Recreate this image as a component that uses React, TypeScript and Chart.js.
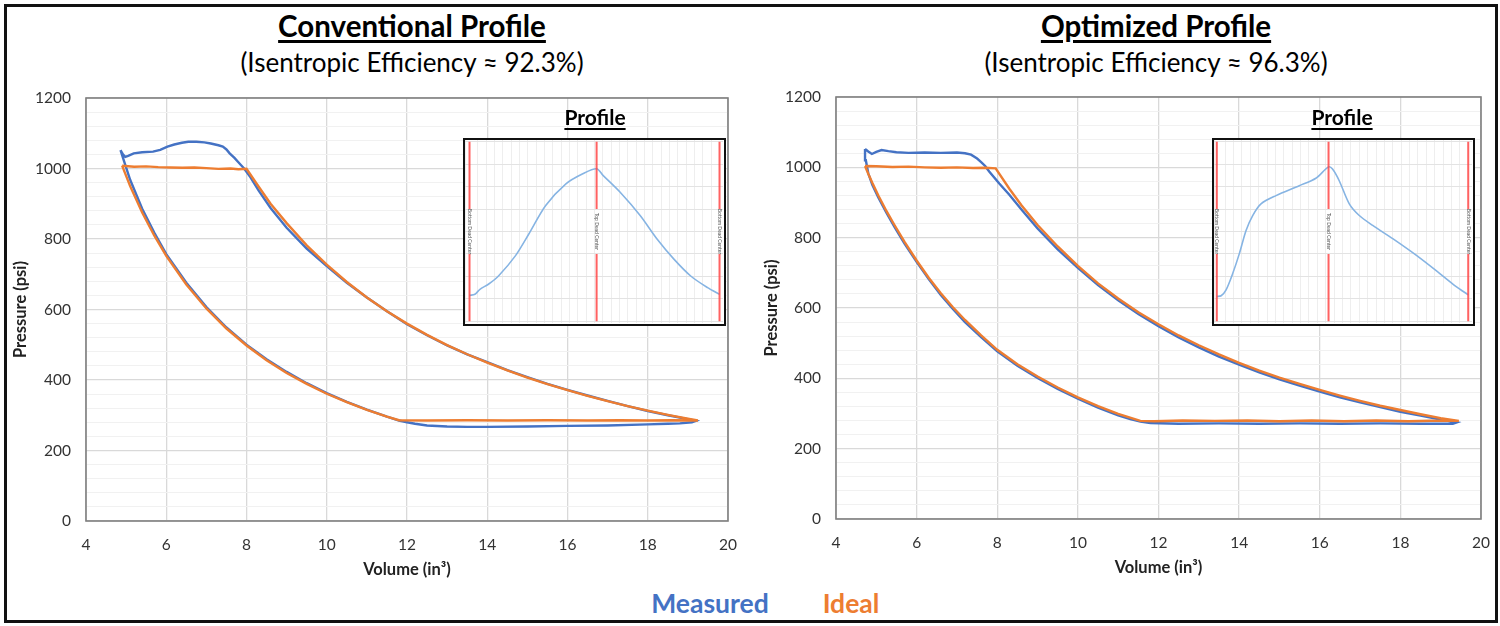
import React, { useEffect, useRef } from "react";
import { Chart, registerables } from "chart.js";
Chart.register(...registerables);

const FONT = 'Lato, "Open Sans", "DejaVu Sans", sans-serif';
const BLUE = "#4472C4";
const ORANGE = "#ED7D31";

// ---------- Conventional profile (left) ----------
const convMeasuredV = [
  4.86, 4.92, 4.98, 5.05, 5.19, 5.4, 5.67, 5.85, 6.03, 6.2, 6.39, 6.55, 6.75, 6.95, 7.11, 7.3, 7.41, 7.5, 7.58, 7.7, 7.82, 7.94,
  8.1, 8.3, 8.6, 9.0, 9.5, 10.0, 10.5, 11.0, 11.5, 12.0, 12.5, 13.0, 13.5, 14.0, 14.5, 15.0, 15.5, 16.0, 16.5, 17.0, 17.5, 18.0, 18.5, 19.0, 19.2,
  19.1, 18.8, 18.5, 18.0, 17.0, 16.0, 15.0, 14.0, 13.5, 13.0, 12.5, 12.2, 12.0, 11.8,
  11.5, 11.0, 10.5, 10.0, 9.5, 9.0, 8.5, 8.0, 7.5, 7.0, 6.5, 6.0, 5.7, 5.4, 5.1, 4.95, 4.86,
];
const convMeasuredP = [
  1052, 1040, 1033, 1036, 1043, 1046, 1048, 1053, 1062, 1068, 1073, 1076, 1076, 1074, 1071, 1066, 1062, 1054, 1043, 1030, 1015, 1000,
  975, 938, 888, 832, 773, 723, 676, 634, 595, 558, 527, 498, 473, 451, 428, 408, 389, 372, 356, 341, 326, 312, 300, 289, 284,
  280, 277, 276, 274, 271, 270, 268, 267, 267, 268, 271, 276, 280, 285,
  296, 316, 338, 363, 391, 423, 459, 500, 549, 607, 676, 757, 818, 886, 968, 1020, 1052,
];
const convIdealV = [
  4.9, 5.2, 5.5, 5.8, 6.1, 6.4, 6.7, 7.0, 7.3, 7.6, 7.8, 8.0,
  8.3, 8.6, 9.0, 9.5, 10.0, 10.5, 11.0, 11.5, 12.0, 12.5, 13.0, 13.5, 14.0, 14.5, 15.0, 15.5, 16.0, 16.5, 17.0, 17.5, 18.0, 18.5, 19.0, 19.25,
  18.6, 18.0, 17.3, 16.5, 15.5, 14.5, 13.5, 12.5, 11.8,
  11.5, 11.0, 10.5, 10.0, 9.5, 9.0, 8.5, 8.0, 7.5, 7.0, 6.5, 6.0, 5.7, 5.4, 5.1, 4.9,
];
const convIdealP = [
  1008, 1005, 1006, 1004, 1003, 1002, 1003, 1001, 999, 1000, 998, 999,
  949, 900, 845, 782, 727, 678, 634, 595, 560, 528, 499, 473, 449, 427, 407, 388, 371, 355, 340, 326, 313, 301, 290, 285,
  286, 285, 286, 285, 286, 285, 286, 285, 286,
  296, 315, 337, 361, 389, 420, 456, 498, 546, 603, 671, 752, 810, 875, 950, 1008,
];

// ---------- Optimized profile (right) ----------
const optMeasuredV = [
  4.72, 4.8, 4.89, 5.0, 5.13, 5.3, 5.5, 5.8, 6.2, 6.6, 7.0, 7.2, 7.35, 7.5, 7.6, 7.7, 7.8, 8.05,
  8.3, 8.6, 9.0, 9.5, 10.0, 10.5, 11.0, 11.5, 12.0, 12.5, 13.0, 13.5, 14.0, 14.5, 15.0, 15.5, 16.0, 16.5, 17.0, 17.5, 18.0, 18.5, 19.0, 19.4,
  19.3, 18.5, 17.5, 16.5, 15.5, 14.5, 13.5, 12.5, 11.8, 11.55,
  11.3, 11.0, 10.5, 10.0, 9.5, 9.0, 8.5, 8.0, 7.6, 7.2, 6.9, 6.6, 6.3, 6.0, 5.7, 5.45, 5.25, 5.05, 4.9, 4.8, 4.74, 4.72,
];
const optMeasuredP = [
  1052, 1045, 1038, 1044, 1049, 1046, 1043, 1041, 1042, 1041, 1042, 1040, 1036, 1025, 1015, 1004, 988, 954,
  922, 880, 826, 767, 714, 665, 622, 583, 548, 516, 488, 462, 439, 417, 397, 379, 362, 346, 332, 318, 305, 294, 283, 275,
  271, 271, 272, 271, 272, 271, 272, 271, 273, 277,
  284, 295, 317, 342, 370, 401, 436, 477, 517, 560, 597, 637, 682, 731, 783, 831, 871, 914, 950, 983, 1020, 1052,
];
const optIdealV = [
  4.72, 5.0, 5.4, 5.8, 6.2, 6.6, 7.0, 7.4, 7.7, 7.96,
  8.3, 8.6, 9.0, 9.5, 10.0, 10.5, 11.0, 11.5, 12.0, 12.5, 13.0, 13.5, 14.0, 14.5, 15.0, 15.5, 16.0, 16.5, 17.0, 17.5, 18.0, 18.5, 19.0, 19.45,
  19.0, 18.2, 17.4, 16.6, 15.8, 15.0, 14.2, 13.4, 12.6, 11.9, 11.55,
  11.0, 10.5, 10.0, 9.5, 9.0, 8.5, 8.0, 7.6, 7.2, 6.9, 6.6, 6.3, 6.0, 5.7, 5.45, 5.25, 5.05, 4.9, 4.8, 4.72,
];
const optIdealP = [
  1004, 1003, 1001, 1002, 1000, 999, 1000, 998, 999, 997,
  939, 892, 836, 775, 720, 670, 627, 588, 554, 522, 494, 468, 444, 422, 402, 384, 367, 351, 336, 322, 310, 298, 287, 279,
  280, 278, 280, 278, 280, 278, 280, 279, 280, 278, 279,
  299, 321, 346, 374, 405, 440, 481, 522, 566, 602, 642, 686, 735, 788, 836, 876, 920, 956, 982, 1004,
];

// ---------- Inset profiles (crank position vs. normalised lift) ----------
const convProfileX = [0, 7.8, 15, 27.2, 41.7, 66, 85.4, 109.7, 138.8, 163.1, 183, 192.2, 216.6, 245.7, 270, 294.3, 318.5, 342.8, 360];
const convProfileY = [14.4, 15, 17.8, 20.6, 25.2, 36.4, 48.6, 64.5, 76.6, 82.2, 85, 81.3, 72, 58.9, 45.8, 34.6, 25.2, 18.7, 15];
const optProfileX = [0, 6.2, 13.3, 22.9, 32.4, 41.9, 51.4, 63.3, 84.8, 118.1, 141.9, 160, 165.7, 175.3, 189.7, 204, 223.2, 251.9, 285.4, 318.9, 342.8, 360];
const optProfileY = [13.8, 14.2, 17.5, 26.7, 37.8, 50.6, 58.9, 65.4, 70, 75.5, 79.7, 86, 84.8, 78.3, 65.4, 58.9, 53.4, 46, 36.8, 26.7, 19.3, 14.7];
const convDeadCenters = [0, 183, 360];
const optDeadCenters = [0, 160, 360];
const deadCenterLabels = ["Bottom Dead Center", "Top Dead Center", "Bottom Dead Center"];

const titles = ["Conventional Profile", "Optimized Profile"];
const subtitles = ["(Isentropic Efficiency ≈ 92.3%)", "(Isentropic Efficiency ≈ 96.3%)"];
const legendLabels = ["Measured", "Ideal"];
const xAxisTitle = "Volume (in³)";
const yAxisTitle = "Pressure (psi)";

const zip = (xs: number[], ys: (number | null)[]) => xs.map((x, i) => ({ x, y: ys[i] }));

function PVChart(props: any) {
  const { left, top, width, height, measured, ideal, yWidth } = props;
  const ref = useRef<HTMLCanvasElement>(null);
  useEffect(() => {
    const frame = {
      id: "plotFrame",
      afterDraw(chart: any) {
        const { ctx, chartArea } = chart;
        ctx.save();
        ctx.strokeStyle = "#7f7f7f";
        ctx.lineWidth = 1.6;
        ctx.strokeRect(chartArea.left, chartArea.top, chartArea.right - chartArea.left, chartArea.bottom - chartArea.top);
        ctx.restore();
      },
    };
    const chart = new Chart(ref.current as HTMLCanvasElement, {
      type: "scatter",
      data: {
        datasets: [
          { label: legendLabels[1], data: ideal, showLine: true, borderColor: ORANGE, backgroundColor: ORANGE, borderWidth: 2.4, pointRadius: 0, tension: 0, fill: false },
          { label: legendLabels[0], data: measured, showLine: true, borderColor: BLUE, backgroundColor: BLUE, borderWidth: 2.4, pointRadius: 0, tension: 0, fill: false },
        ],
      },
      options: {
        animation: false,
        responsive: false,
        maintainAspectRatio: false,
        layout: { padding: { top: 13, right: 12, left: 0, bottom: 0 } },
        plugins: { legend: { display: false }, tooltip: { enabled: false }, title: { display: false } },
        scales: {
          x: {
            type: "linear",
            min: 4,
            max: 20,
            ticks: { stepSize: 2, padding: 15, color: "#333", font: { family: FONT, size: 15.5 } },
            grid: { color: "#d9d9d9", lineWidth: 1.3, drawTicks: false },
            border: { display: false },
            title: { display: true, text: xAxisTitle, color: "#222", font: { family: FONT, size: 16.5, weight: "bold" }, padding: { top: 0, bottom: 1 } },
            afterFit: (s: any) => { s.height = 60; s.paddingLeft = 0; s.paddingRight = 0; },
          },
          y: {
            type: "linear",
            min: 0,
            max: 1200,
            ticks: {
              stepSize: 40,
              autoSkip: false,
              padding: 15,
              color: "#333",
              font: { family: FONT, size: 15.5 },
              callback: (v: any) => (Math.round(v) % 200 === 0 ? String(Math.round(v)) : ""),
            },
            grid: {
              drawTicks: false,
              color: (c: any) => (Math.round(c.tick.value) % 200 === 0 ? "#d9d9d9" : "#f1f1f1"),
              lineWidth: (c: any) => (Math.round(c.tick.value) % 200 === 0 ? 1.3 : 1),
            },
            border: { display: false },
            title: { display: true, text: yAxisTitle, color: "#222", font: { family: FONT, size: 16.5, weight: "bold" }, padding: { top: 6, bottom: 0 } },
            afterFit: (s: any) => { s.width = yWidth; s.paddingTop = 0; s.paddingBottom = 0; },
          },
        },
      } as any,
      plugins: [frame],
    } as any);
    return () => chart.destroy();
  }, []);
  return <canvas ref={ref} width={width} height={height} style={{ position: "absolute", left, top, width, height }} />;
}

function ProfileInset(props: any) {
  const { left, top, width, height, xs, ys, centers, xMin, xMax } = props;
  const ref = useRef<HTMLCanvasElement>(null);
  const b = 2.5;
  useEffect(() => {
    const labelsPlugin = {
      id: "dcLabels",
      afterDatasetsDraw(chart: any) {
        const { ctx, scales } = chart;
        ctx.save();
        ctx.fillStyle = "#555";
        ctx.font = `5px ${FONT}`;
        ctx.textAlign = "center";
        ctx.textBaseline = "middle";
        centers.forEach((c: number, i: number) => {
          ctx.save();
          ctx.translate(scales.x.getPixelForValue(c), scales.y.getPixelForValue(50));
          ctx.rotate(Math.PI / 2);
          ctx.fillText(deadCenterLabels[i], 0, 0);
          ctx.restore();
        });
        ctx.restore();
      },
    };
    const redSets = centers.map((c: number) => ({
      data: zip([c, c, c, c, c], [0, 37.5, null, 62.5, 100]),
      showLine: true,
      borderColor: "rgba(255, 70, 70, 0.85)",
      borderWidth: 2,
      pointRadius: 0,
      spanGaps: false,
    }));
    const chart = new Chart(ref.current as HTMLCanvasElement, {
      type: "scatter",
      data: {
        datasets: [
          ...redSets,
          { data: zip(xs, ys), showLine: true, borderColor: "#86b4e3", borderWidth: 1.6, pointRadius: 0, tension: 0.3 },
        ],
      },
      options: {
        animation: false,
        responsive: false,
        maintainAspectRatio: false,
        layout: { padding: 0 },
        plugins: { legend: { display: false }, tooltip: { enabled: false } },
        scales: {
          x: {
            type: "linear", min: xMin, max: xMax,
            ticks: { display: false, stepSize: 12 },
            grid: { color: "#eeeeee", lineWidth: 1, drawTicks: false },
            border: { display: false },
            afterFit: (s: any) => { s.height = 0; s.paddingLeft = 0; s.paddingRight = 0; },
          },
          y: {
            type: "linear", min: -1, max: 101,
            ticks: { display: false, stepSize: 12.5 },
            grid: { color: "#e3e3e3", lineWidth: 1, drawTicks: false },
            border: { display: false },
            afterBuildTicks: (s: any) => {
              s.ticks = [0, 12.5, 25, 37.5, 50, 62.5, 75, 87.5, 100].map((v) => ({ value: v }));
            },
            afterFit: (s: any) => { s.width = 0; s.paddingTop = 0; s.paddingBottom = 0; },
          },
        },
      } as any,
      plugins: [labelsPlugin],
    } as any);
    return () => chart.destroy();
  }, []);
  return (
    <div style={{ position: "absolute", left, top, width, height, border: `${b}px solid #111`, boxSizing: "border-box", background: "#fff" }}>
      <canvas ref={ref} width={width - 2 * b} height={height - 2 * b} style={{ display: "block", width: width - 2 * b, height: height - 2 * b }} />
    </div>
  );
}

function Label(props: any) {
  const { text, cx, top, size, weight, color, underline, thick, offset } = props;
  return (
    <div
      style={{
        position: "absolute",
        left: cx,
        top,
        transform: "translateX(-50%)",
        fontFamily: FONT,
        fontSize: size,
        fontWeight: weight,
        lineHeight: 1.2,
        color,
        whiteSpace: "nowrap",
        textDecoration: underline ? "underline" : "none",
        textDecorationThickness: thick,
        textUnderlineOffset: offset,
      }}
    >
      {text}
    </div>
  );
}

export default function App() {
  return (
    <div style={{ position: "fixed", left: 0, top: 0, width: 1500, height: 626, background: "#fff", overflow: "hidden" }}>
      <Label text={titles[0]} cx={412} top={8} size={29.5} weight={700} color="#000" underline thick="2.5px" offset="3px" />
      <Label text={subtitles[0]} cx={412} top={47} size={26} weight={400} color="#000" />
      <Label text={titles[1]} cx={1156} top={8} size={29.5} weight={700} color="#000" underline thick="2.5px" offset="3px" />
      <Label text={subtitles[1]} cx={1156} top={47} size={26} weight={400} color="#000" />

      <PVChart left={5} top={85} width={735} height={496} yWidth={81} measured={zip(convMeasuredV, convMeasuredP)} ideal={zip(convIdealV, convIdealP)} />
      <PVChart left={756} top={84} width={737} height={495} yWidth={80} measured={zip(optMeasuredV, optMeasuredP)} ideal={zip(optIdealV, optIdealP)} />

      <Label text="Profile" cx={595} top={104} size={21} weight={700} color="#000" underline thick="2px" offset="3px" />
      <Label text="Profile" cx={1342} top={104} size={21} weight={700} color="#000" underline thick="2px" offset="3px" />
      <ProfileInset left={463} top={138} width={263} height={188} xs={convProfileX} ys={convProfileY} centers={convDeadCenters} xMin={-6.5} xMax={365} />
      <ProfileInset left={1212} top={138} width={263} height={188} xs={optProfileX} ys={optProfileY} centers={optDeadCenters} xMin={-4} xMax={365.4} />

      <Label text={legendLabels[0]} cx={710} top={588} size={26.5} weight={700} color={BLUE} />
      <Label text={legendLabels[1]} cx={851} top={588} size={26.5} weight={700} color={ORANGE} />

      <div style={{ position: "absolute", left: 4, top: 4, width: 1494, height: 619, border: "3px solid #111", boxSizing: "border-box", pointerEvents: "none" }} />
    </div>
  );
}
